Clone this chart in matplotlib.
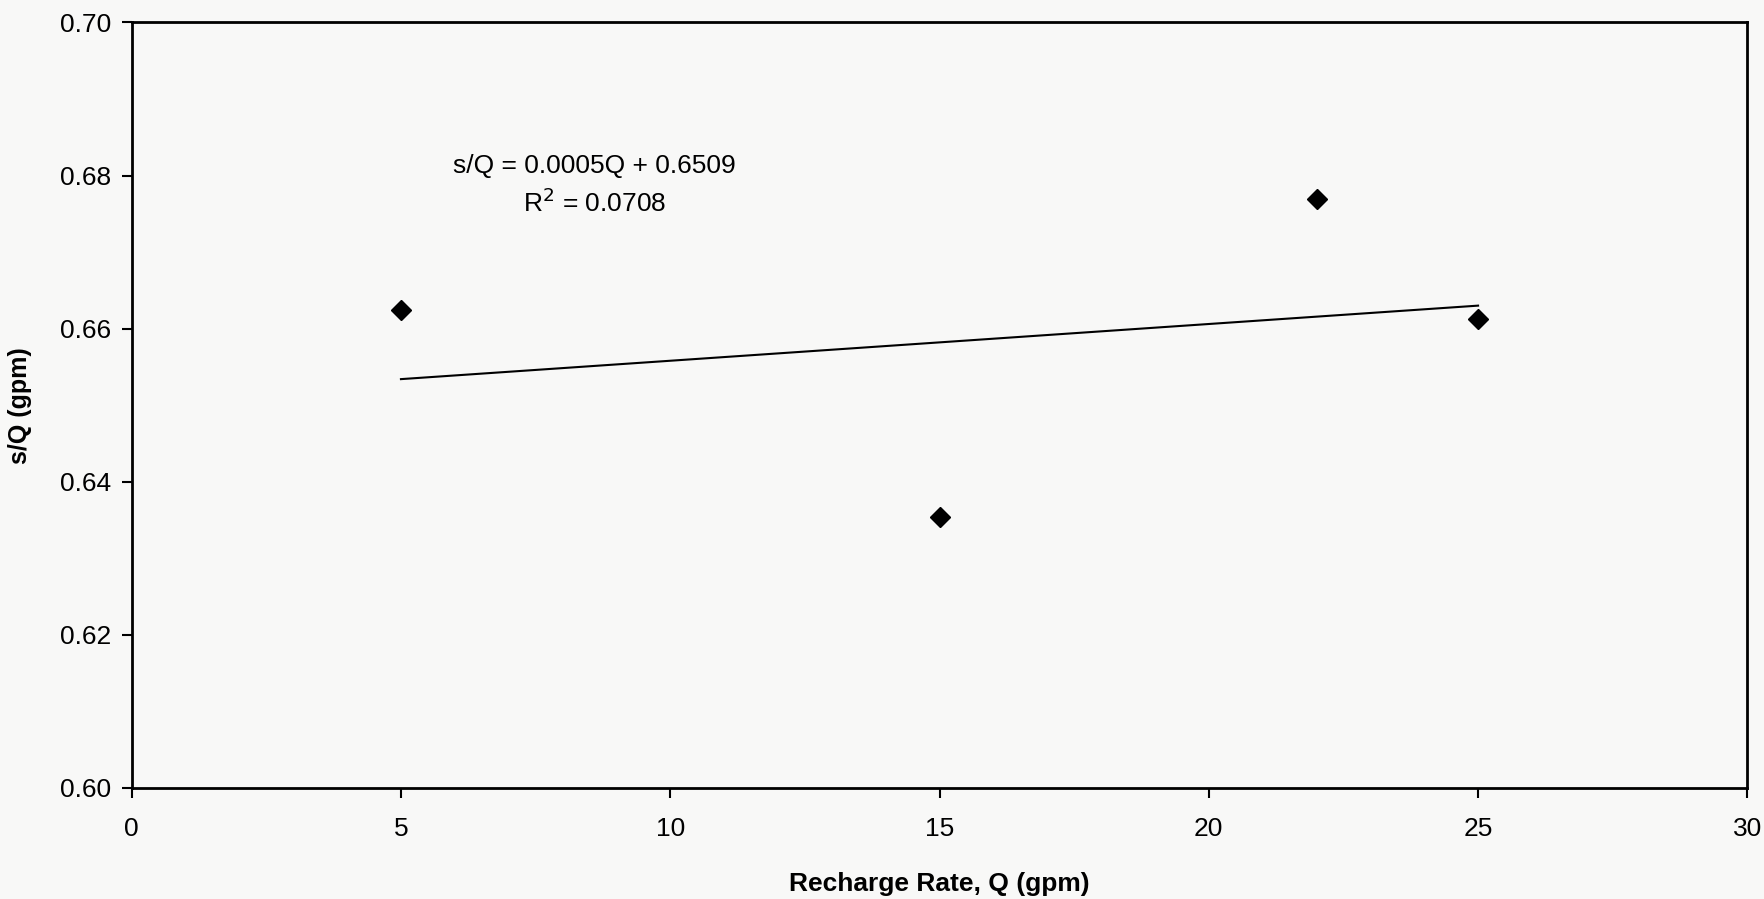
import numpy as np
import matplotlib.pyplot as plt

# recharge rate Q (gpm) and specific drawdown s/Q
q = [5, 15, 22, 25]
sq = [0.6625, 0.6354, 0.6770, 0.6613]
xticks = [0, 5, 10, 15, 20, 25, 30]
yticks = [0.60, 0.62, 0.64, 0.66, 0.68, 0.70]

plt.rcParams['font.family'] = ['Liberation Sans', 'DejaVu Sans']

fig = plt.figure(figsize=(17.65, 8.99), dpi=100, facecolor="#f8f8f7")
ax = fig.add_axes([0.0746, 0.1235, 0.9154, 0.8515])
ax.set_facecolor("#f8f8f7")

ax.plot(q, sq, linestyle="none", marker="D", markersize=10.5, color="black")

# linear trendline over the range of the data
slope, icpt = np.polyfit(q, sq, 1)
xs = np.array([min(q), max(q)])
ax.plot(xs, slope * xs + icpt, color="black", linewidth=1.5)

ax.text(8.6, 0.6787, "s/Q = 0.0005Q + 0.6509\nR$^2$ = 0.0708", ha="center", va="center",
        fontsize=19, linespacing=1.45)

ax.set_xlim(0, 30)
ax.set_ylim(0.60, 0.70)
ax.set_xticks(xticks)
ax.set_yticks(yticks)
ax.set_yticklabels(["%.2f" % v for v in yticks])
ax.tick_params(direction="out", length=7, width=1.5, labelsize=19)
ax.tick_params(axis="x", pad=14)
ax.tick_params(axis="y", pad=8)
for s in ax.spines.values():
    s.set_linewidth(2)

ax.set_xlabel("Recharge Rate, Q (gpm)", fontsize=19, fontweight="bold", labelpad=22)
ax.set_ylabel("s/Q (gpm)", fontsize=18, fontweight="bold", labelpad=20)

fig.savefig("out.png", dpi=100, facecolor=fig.get_facecolor())
